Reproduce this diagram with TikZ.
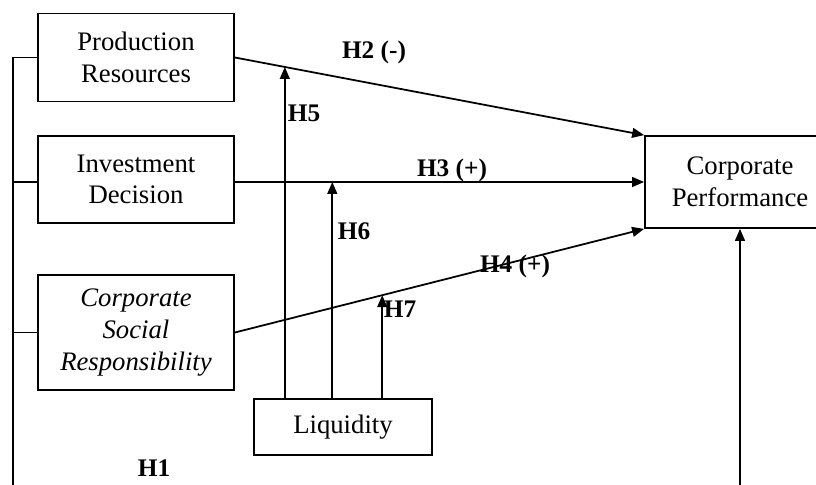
\documentclass[tikz,border=0pt]{standalone}
\usepackage{fontspec}
\setmainfont{Liberation Serif}
\usetikzlibrary{positioning,arrows.meta,calc}

\begin{document}
\begin{tikzpicture}[
    x=0.025cm, y=-0.025cm,
    line width=1.25pt,
    var/.style={draw, line width=1.25pt, minimum width=4.9cm, minimum height=2.2cm, inner sep=0pt, align=center, font=\fontsize{19}{22.5}\selectfont},
    arr/.style={-{Triangle[length=8.5pt, width=7pt]}},
    hyp/.style={font=\fontsize{18}{22}\selectfont\bfseries}
]
\clip (0,0) rectangle (816,485);

% Variables
\node[var] (pr) at (136,57.5) {Production\\Resources};
\node[var, minimum height=2.175cm] (id) at (136,179.5) {Investment\\Decision};
\node[var, minimum height=2.875cm] (csr) at (136,332.5) {\itshape Corporate\\\itshape Social\\\itshape Responsibility};
\node[var, minimum width=4.45cm, minimum height=1.4cm] (liq) at (343,427) {Liquidity};
\node[var, minimum width=4.75cm, minimum height=2.3cm] (cp) at (740,182) {Corporate\\Performance};

% Free ends at the lower edge
\coordinate (bl) at (13,495);
\coordinate (br) at (740,495);

% Direct effects
\draw[arr] (pr.east) -- (cp.north west);
\draw[arr] (id.east |- cp.west) -- (cp.west);
\draw[arr] (csr.east) -- (cp.south west);

% H1 link
\draw (pr.west) -| (bl);
\draw (id.west |- cp.west) -- (cp.west -| bl);
\draw (csr.west) -- (csr.west -| bl);
\draw[arr] (br) -- (cp.south);

% Moderation by liquidity
\coordinate (t5) at ($(pr.east)!0.122!(cp.north west)$);
\coordinate (t6) at ($(id.east |- cp.west)!0.238!(cp.west)$);
\coordinate (t7) at ($(csr.east)!0.36!(cp.south west)$);
\draw[arr] (liq.north -| t5) -- (t5);
\draw[arr] (liq.north -| t6) -- (t6);
\draw[arr] (liq.north -| t7) -- (t7);

% Hypothesis labels
\node[hyp] (h1) at (154,468) {H1};
\node[hyp] (h2) at (374,52) {H2 (-)};
\node[hyp] (h3) at (452,170) {H3 (+)};
\node[hyp] (h4) at (515,266) {H4 (+)};
\node[hyp] (h5) at (304,113) {H5};
\node[hyp] (h6) at (354,231) {H6};
\node[hyp] (h7) at (400,309) {H7};
\end{tikzpicture}
\end{document}
